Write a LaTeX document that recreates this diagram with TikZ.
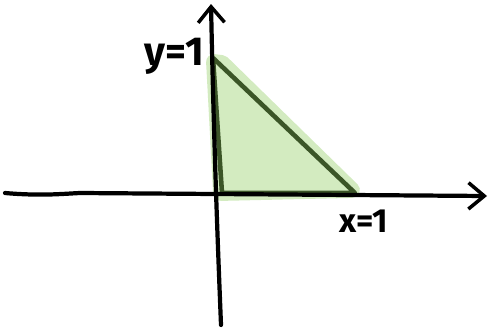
\documentclass[tikz,border=0pt]{standalone}
\usepackage{fontspec}
\setmainfont{Fira Sans}
\usetikzlibrary{arrows.meta}
\definecolor{leaf}{HTML}{D3EBC0}
\definecolor{leafdark}{HTML}{3B5527}
\begin{document}
\begin{tikzpicture}[x=0.02cm, y=-0.02cm, line cap=round, line join=round,
    >={Straight Barb[length=9pt, width=15pt, line width=2pt]}]
    \useasboundingbox (0,0) rectangle (489,328);

    % Gebied onder de lijn
    \fill[leaf, draw=leaf, line width=9pt] (214,62) -- (222,63) -- (352,190) -- (221,193) -- cycle;
    \draw[leafdark, line width=2.6pt] (213,58) -- (222,193) -- (355,193) -- cycle;

    % Assen
    \draw[->, line width=2.4pt] (5,193) .. controls (40,196) and (60,194) .. (80,193) -- (487,196);
    \draw[->, line width=2.4pt] (221,325) .. controls (218,250) and (214,150) .. (211,4);

    % Labels
    \node (ylabel) at (174,56) {\fontsize{23}{23}\selectfont\bfseries y=1};
    \node (xlabel) at (364,221) {\fontsize{19}{19}\selectfont\bfseries x=1};
\end{tikzpicture}
\end{document}
